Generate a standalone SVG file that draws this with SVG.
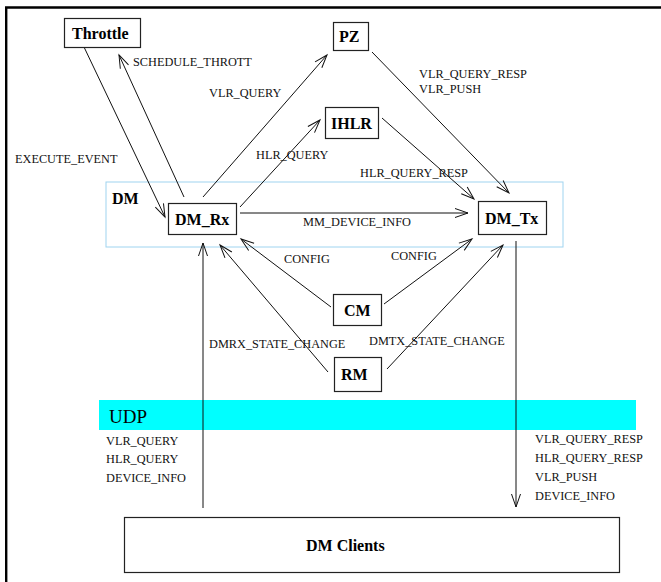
<svg xmlns="http://www.w3.org/2000/svg" width="661" height="582" viewBox="0 0 661 582">
<style>
.box{fill:#fff;stroke:#222;stroke-width:1.2}
.lbl{font-family:"Liberation Serif",serif;font-size:16px;font-weight:bold;fill:#000}
.t{font-family:"Liberation Serif",serif;font-size:12.3px;fill:#111}
.c{stroke:#111;stroke-width:1;fill:none}
</style>
<defs>
<marker id="ah" markerUnits="userSpaceOnUse" markerWidth="16" markerHeight="12" viewBox="-14 -6 16 12" refX="0" refY="0" orient="auto" overflow="visible">
<path d="M-13,-4.5 L0,0 L-13,4.5" fill="none" stroke="#111" stroke-width="1"/>
</marker>
</defs>
<rect width="661" height="582" fill="#fff"/>
<path d="M6.2,582 V7.5 H661" fill="none" stroke="#000" stroke-width="2.4"/>
<g id="dm-group">
<rect x="106" y="182" width="457" height="65" fill="none" stroke="#9fd4f0" stroke-width="1"/>
<text class="lbl" x="112" y="204">DM</text>
</g>
<g id="udp">
<rect x="99" y="400" width="537" height="30" fill="#00ffff"/>
<text x="109" y="423" font-family="Liberation Serif,serif" font-size="19px" fill="#000">UDP</text>
</g>
<g id="connectors">
<line class="c" x1="84" y1="47" x2="165" y2="217" marker-end="url(#ah)"/>
<line class="c" x1="184" y1="197" x2="119" y2="55" marker-end="url(#ah)"/>
<line class="c" x1="203" y1="197" x2="327" y2="55" marker-end="url(#ah)"/>
<line class="c" x1="240" y1="207" x2="320" y2="120" marker-end="url(#ah)"/>
<line class="c" x1="372" y1="52" x2="509" y2="193" marker-end="url(#ah)"/>
<line class="c" x1="382" y1="118" x2="474" y2="199" marker-end="url(#ah)"/>
<line class="c" x1="240" y1="213" x2="468" y2="213" marker-end="url(#ah)"/>
<line class="c" x1="331" y1="307" x2="241" y2="239" marker-end="url(#ah)"/>
<line class="c" x1="384" y1="304" x2="472" y2="239" marker-end="url(#ah)"/>
<line class="c" x1="328" y1="372" x2="220" y2="245" marker-end="url(#ah)"/>
<line class="c" x1="387" y1="369" x2="503" y2="245" marker-end="url(#ah)"/>
<line class="c" x1="203" y1="508" x2="203" y2="243" marker-end="url(#ah)"/>
<line class="c" x1="516" y1="241" x2="516" y2="507" marker-end="url(#ah)"/>
<text class="t" x="133" y="66">SCHEDULE_THROTT</text>
<text class="t" x="209" y="97">VLR_QUERY</text>
<text class="t" x="15" y="163">EXECUTE_EVENT</text>
<text class="t" x="256" y="159">HLR_QUERY</text>
<text class="t" x="419" y="78">VLR_QUERY_RESP</text>
<text class="t" x="419" y="93">VLR_PUSH</text>
<text class="t" x="360" y="177">HLR_QUERY_RESP</text>
<text class="t" x="303" y="226">MM_DEVICE_INFO</text>
<text class="t" x="284" y="263">CONFIG</text>
<text class="t" x="391" y="260">CONFIG</text>
<text class="t" x="209" y="348">DMRX_STATE_CHANGE</text>
<text class="t" x="369" y="345">DMTX_STATE_CHANGE</text>
<text class="t" x="106" y="445">VLR_QUERY</text>
<text class="t" x="106" y="463">HLR_QUERY</text>
<text class="t" x="106" y="482">DEVICE_INFO</text>
<text class="t" x="535" y="443">VLR_QUERY_RESP</text>
<text class="t" x="535" y="462">HLR_QUERY_RESP</text>
<text class="t" x="535" y="481">VLR_PUSH</text>
<text class="t" x="535" y="500">DEVICE_INFO</text>
</g>
<g id="throttle"><rect class="box" x="64.5" y="18.5" width="76" height="29"/><text class="lbl" x="72" y="39">Throttle</text></g>
<g id="pz"><rect class="box" x="333.5" y="22.5" width="35" height="28"/><text class="lbl" x="339" y="42">PZ</text></g>
<g id="ihlr"><rect class="box" x="325.5" y="107.5" width="53" height="31"/><text class="lbl" x="331" y="129">IHLR</text></g>
<g id="dm-rx"><rect class="box" x="168.5" y="203.5" width="68" height="31"/><text class="lbl" x="175" y="225">DM_Rx</text></g>
<g id="dm-tx"><rect class="box" x="478.5" y="201.5" width="68" height="33"/><text class="lbl" x="485" y="224">DM_Tx</text></g>
<g id="cm"><rect class="box" x="333.5" y="294.5" width="48" height="31"/><text class="lbl" x="344" y="316">CM</text></g>
<g id="rm"><rect class="box" x="334.5" y="357.5" width="47" height="34"/><text class="lbl" x="341" y="380">RM</text></g>
<g id="dm-clients"><rect class="box" x="124.5" y="517.5" width="495" height="55"/><text class="lbl" x="306" y="551">DM Clients</text></g>
</svg>
